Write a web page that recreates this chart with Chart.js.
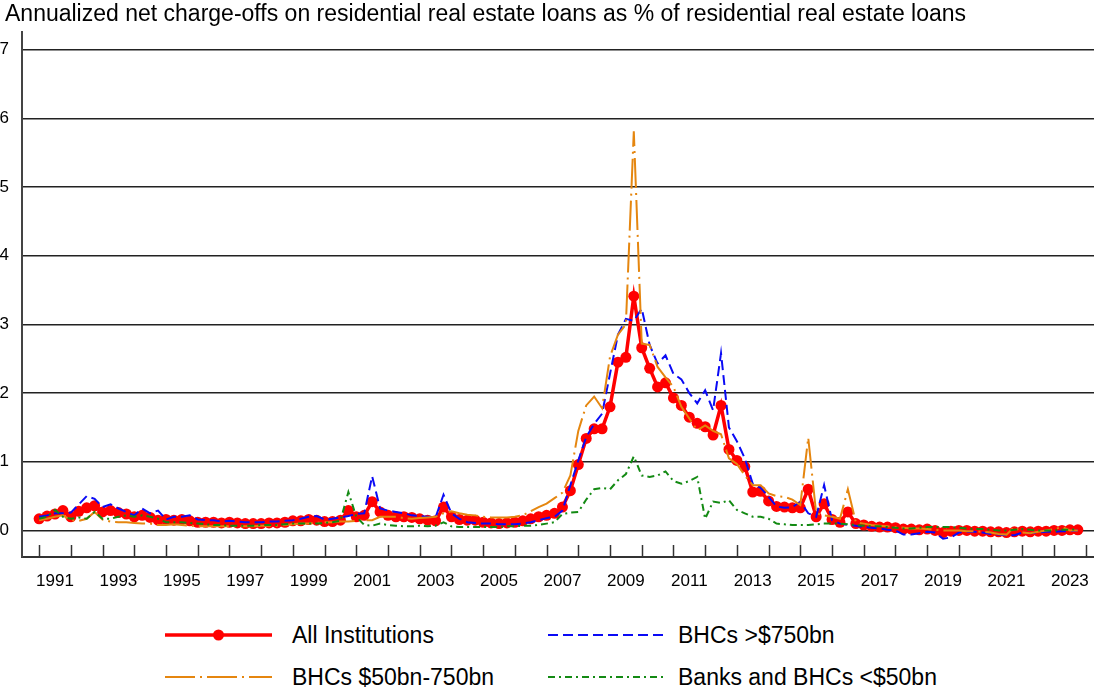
<!DOCTYPE html>
<html>
<head>
<meta charset="utf-8">
<script src="https://cdn.jsdelivr.net/npm/chart.js@4.4.1/dist/chart.umd.min.js"></script>
<style>
  body { margin: 0; background: #fff; }
  #wrap { position: relative; width: 1094px; height: 690px; font-family: "Liberation Sans", Arial, sans-serif; color: #000; }
  #title { position: absolute; left: 5px; top: -1px; font-size: 23px; line-height: 28px; white-space: nowrap; }
  #chart { position: absolute; left: 0; top: 0; }
  .item { position: absolute; height: 30px; font-size: 23px; line-height: 30px; white-space: nowrap; }
  .item svg { position: absolute; left: 0; top: 0; }
  .item span { position: absolute; top: 0; }
</style>
</head>
<body>
<div id="wrap">
  <canvas id="chart" width="1094" height="600"></canvas>
  <div id="title">Annualized net charge-offs on residential real estate loans as % of residential real estate loans</div>
  <div id="legend"></div>
</div>
<script>
// quarterly, 1991Q1 - 2023Q4
var startYear = 1991;
var endYear = 2023;
var quarters = [];
for (var y = startYear; y <= endYear; y++) {
    for (var q = 1; q <= 4; q++) quarters.push(y + "Q" + q);
}

var allInstitutions = [
    0.17,0.21,0.24,0.29,0.2,0.28,0.33,0.36, 0.27,0.29,0.26,0.24,0.2,0.22,0.19,0.15,
    0.16,0.15,0.16,0.14,0.12,0.12,0.12,0.11, 0.12,0.11,0.1,0.1,0.1,0.11,0.11,0.12,
    0.14,0.14,0.16,0.15,0.13,0.13,0.15,0.29, 0.2,0.22,0.42,0.27,0.22,0.2,0.2,0.19,
    0.17,0.15,0.14,0.34,0.2,0.16,0.15,0.15, 0.12,0.11,0.1,0.11,0.12,0.14,0.17,0.2,
    0.22,0.25,0.34,0.58,0.96,1.34,1.48,1.48, 1.8,2.45,2.52,3.41,2.66,2.36,2.09,2.15,
    1.93,1.82,1.65,1.56,1.51,1.39,1.82,1.18, 1.02,0.93,0.56,0.57,0.43,0.35,0.34,0.33,
    0.33,0.6,0.2,0.39,0.16,0.12,0.27,0.1, 0.08,0.06,0.05,0.05,0.04,0.02,0.02,0.01,
    0.02,0.0,-0.03,-0.01,0.0,0.0,-0.01,-0.01, -0.02,-0.02,-0.03,-0.02,-0.01,-0.02,-0.01,-0.01,
    0.0,0.0,0.01,0.01
];

var bhcsLarge = [
    0.2,0.22,0.25,0.25,0.26,0.38,0.5,0.46, 0.34,0.38,0.32,0.27,0.22,0.32,0.25,0.29,
    0.16,0.2,0.2,0.22,0.16,0.15,0.15,0.13, 0.14,0.13,0.12,0.12,0.12,0.13,0.13,0.14,
    0.15,0.17,0.2,0.21,0.16,0.17,0.19,0.21, 0.24,0.25,0.79,0.32,0.29,0.27,0.25,0.22,
    0.21,0.2,0.19,0.52,0.25,0.17,0.12,0.11, 0.1,0.1,0.09,0.09,0.09,0.1,0.12,0.15,
    0.18,0.2,0.29,0.66,1.02,1.36,1.55,1.7, 2.28,2.85,3.08,3.05,3.23,2.7,2.43,2.55,
    2.28,2.2,2.0,1.85,2.04,1.75,2.58,1.5, 1.3,1.05,0.68,0.62,0.49,0.35,0.33,0.34,
    0.42,0.25,0.2,0.66,0.15,0.1,0.08,0.07, 0.05,0.04,0.03,0.01,0.0,-0.06,-0.06,-0.04,
    -0.02,-0.03,-0.12,-0.1,-0.03,-0.02,-0.02,-0.03, -0.05,-0.06,-0.07,-0.07,-0.03,-0.04,-0.03,-0.02,
    -0.02,-0.01,-0.01,0.0
];

var bhcsMid = [
    0.15,0.17,0.2,0.22,0.15,0.14,0.17,0.27, 0.16,0.13,0.12,0.12,0.11,0.1,0.1,0.08,
    0.08,0.09,0.08,0.07,0.06,0.06,0.06,0.06, 0.06,0.06,0.06,0.06,0.07,0.07,0.07,0.08,
    0.09,0.1,0.1,0.11,0.12,0.12,0.13,0.13, 0.14,0.15,0.15,0.2,0.2,0.2,0.18,0.17,
    0.18,0.19,0.2,0.25,0.28,0.25,0.23,0.22, 0.2,0.19,0.19,0.19,0.2,0.22,0.28,0.34,
    0.39,0.47,0.55,0.8,1.45,1.82,1.95,1.78, 2.53,2.85,3.0,5.81,2.72,2.7,2.38,2.23,
    2.09,1.8,1.63,1.46,1.53,1.45,1.4,1.05, 0.97,0.8,0.66,0.66,0.54,0.5,0.49,0.45,
    0.37,1.35,0.25,0.22,0.2,0.17,0.6,0.12, 0.1,0.08,0.07,0.06,0.05,0.04,0.03,0.03,
    0.02,0.01,0.0,0.0,0.0,-0.01,-0.01,-0.02, -0.03,-0.05,-0.06,0.05,-0.03,-0.04,-0.02,0.0,
    0.02,0.05,0.0,0.0
];

var banksSmall = [
    0.17,0.2,0.3,0.2,0.17,0.19,0.17,0.27, 0.17,0.17,0.2,0.22,0.2,0.22,0.2,0.17,
    0.12,0.12,0.12,0.11,0.1,0.09,0.08,0.08, 0.07,0.07,0.07,0.07,0.08,0.08,0.08,0.09,
    0.1,0.1,0.1,0.1,0.11,0.12,0.14,0.56, 0.2,0.08,0.07,0.1,0.08,0.07,0.06,0.06,
    0.07,0.06,0.07,0.12,0.06,0.05,0.05,0.05, 0.05,0.05,0.05,0.06,0.06,0.07,0.07,0.08,
    0.1,0.12,0.24,0.26,0.27,0.45,0.6,0.62, 0.6,0.73,0.82,1.08,0.8,0.78,0.8,0.86,
    0.72,0.68,0.72,0.78,0.17,0.42,0.4,0.44, 0.3,0.25,0.2,0.2,0.17,0.1,0.09,0.08,
    0.08,0.08,0.09,0.1,0.1,0.1,0.09,0.08, 0.07,0.06,0.06,0.05,0.04,0.03,0.03,0.04,
    0.05,0.05,0.05,0.05,0.04,0.03,0.02,0.02, 0.01,0.0,0.0,0.01,0.02,0.01,0.0,0.0,
    0.0,0.01,0.01,0.02
];

var yearLabels = ["1991","1993","1995","1997","1999","2001","2003","2005","2007",
                  "2009","2011","2013","2015","2017","2019","2021","2023"];
var yTicks = [0, 1, 2, 3, 4, 5, 6, 7];

var seriesNames = ["All Institutions", "BHCs >$750bn", "BHCs $50bn-750bn", "Banks and BHCs <$50bn"];

function toPoints(values) {
    return quarters.map(function(s, i) {
        return { x: +s.slice(0, 4) + (+s.slice(5) - 1) / 4, y: values[i] };
    });
}

var datasets = [
    {
        label: seriesNames[0], data: toPoints(allInstitutions),
        borderColor: "#ff0000", backgroundColor: "#ff0000", borderWidth: 3.5,
        pointRadius: 5.5, pointBorderWidth: 0, pointBackgroundColor: "#ff0000", order: 4
    },
    {
        label: seriesNames[1], data: toPoints(bhcsLarge),
        borderColor: "#0a0af5", borderWidth: 2, borderDash: [10, 5], pointRadius: 0, order: 3
    },
    {
        label: seriesNames[2], data: toPoints(bhcsMid),
        borderColor: "#e5860f", borderWidth: 2, borderDash: [30, 5, 2, 5], pointRadius: 0, order: 2
    },
    {
        label: seriesNames[3], data: toPoints(banksSmall),
        borderColor: "#138a13", borderWidth: 2, borderDash: [7, 4, 2, 4], pointRadius: 0, order: 1
    }
];

// small tick marks at each year, drawn upward from the bottom axis
var yearTickMarks = {
    id: "yearTickMarks",
    afterDraw: function(chart) {
        var xs = chart.scales.x;
        var ctx = chart.ctx;
        var bottom = chart.chartArea.bottom;
        ctx.save();
        ctx.strokeStyle = "#333";
        ctx.lineWidth = 1.5;
        for (var yr = startYear; yr <= endYear + 1; yr++) {
            var px = Math.round(xs.getPixelForValue(yr)) + 0.5;
            ctx.beginPath();
            ctx.moveTo(px, bottom);
            ctx.lineTo(px, bottom - 12);
            ctx.stroke();
        }
        ctx.restore();
    }
};

Chart.defaults.font.family = '"Liberation Sans", Arial, sans-serif';
Chart.defaults.color = "#000";
var tickFont = { size: 17 };

var ctx = document.getElementById("chart");
var chart = new Chart(ctx, {
    type: "line",
    data: { datasets: datasets },
    options: {
        responsive: false,
        animation: false,
        devicePixelRatio: 1,
        layout: { autoPadding: false, padding: { top: 32, left: 0, right: 0, bottom: 0 } },
        plugins: {
            legend: { display: false },
            title: { display: false },
            tooltip: { enabled: false }
        },
        elements: { line: { tension: 0 } },
        scales: {
            x: {
                type: "linear",
                min: 1990.46,
                max: 2024.26,
                afterBuildTicks: function(scale) {
                    scale.ticks = yearLabels.map(function(l) { return { value: +l + 0.5 }; });
                },
                afterFit: function(scale) {
                    scale.height = 43;
                    scale.paddingLeft = 0;
                    scale.paddingRight = 0;
                },
                ticks: {
                    autoSkip: false,
                    maxRotation: 0,
                    padding: 14,
                    font: tickFont,
                    callback: function(v) { return String(Math.floor(v)); }
                },
                grid: { display: false, drawTicks: false },
                border: { display: true, color: "#333", width: 2 }
            },
            y: {
                min: -0.386,
                max: 7.256,
                afterBuildTicks: function(scale) {
                    scale.ticks = yTicks.map(function(v) { return { value: v }; });
                },
                afterFit: function(scale) {
                    scale.width = 22;
                    scale.paddingTop = 0;
                    scale.paddingBottom = 0;
                },
                ticks: { padding: 13, font: tickFont },
                grid: { color: "#222", lineWidth: 1.5, drawTicks: false },
                border: { display: true, color: "#444", width: 2 }
            }
        }
    },
    plugins: [yearTickMarks]
});

// legend below the chart, two columns
var legendItems = [
    { x: 165, y: 620, ds: 0, len: 107 },
    { x: 548, y: 620, ds: 1, len: 117 },
    { x: 165, y: 662, ds: 2, len: 107 },
    { x: 548, y: 662, ds: 3, len: 117 }
];
var legendHtml = "";
legendItems.forEach(function(it) {
    var d = datasets[it.ds];
    var dash = d.borderDash ? d.borderDash.join(",") : "none";
    var svg = '<svg width="' + (it.len + 2) + '" height="30"><line x1="0" y1="15" x2="' + it.len + '" y2="15" stroke="' +
        d.borderColor + '" stroke-width="' + d.borderWidth + '" stroke-dasharray="' + dash + '"/>';
    if (d.pointRadius) svg += '<circle cx="' + (it.len / 2) + '" cy="15" r="' + d.pointRadius + '" fill="' + d.borderColor + '"/>';
    svg += "</svg>";
    var textLeft = it.x < 300 ? 127 : 130;
    legendHtml += '<div class="item" style="left:' + it.x + 'px;top:' + it.y + 'px;width:440px">' + svg +
        '<span style="left:' + textLeft + 'px">' + d.label.replace(/</g, "&lt;").replace(/>/g, "&gt;") + "</span></div>";
});
document.getElementById("legend").innerHTML = legendHtml;
</script>
</body>
</html>
